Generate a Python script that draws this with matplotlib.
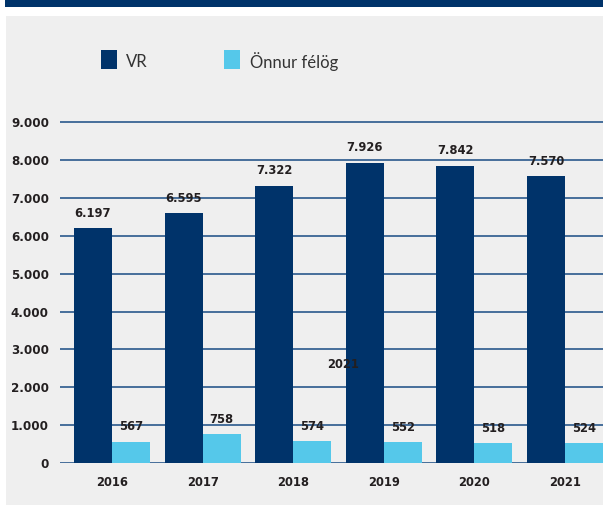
import numpy as np
import matplotlib
matplotlib.use("Agg")
import matplotlib.pyplot as plt
from matplotlib.patches import Rectangle

# --- data ---
years = ["2016", "2017", "2018", "2019", "2020", "2021"]
vr = [6197, 6595, 7322, 7926, 7842, 7570]
others = [567, 758, 574, 552, 518, 524]
yticks = [0, 1000, 2000, 3000, 4000, 5000, 6000, 7000, 8000, 9000]
series_names = ["VR", "Önnur félög"]

navy = "#00336a"
light = "#55c8ea"
grid_col = "#466e9a"
txt = "#231f20"
num_font = "DejaVu Sans"

plt.rcParams["font.family"] = ["Lato", "DejaVu Sans"]

W, H = 603, 507
fig = plt.figure(figsize=(W / 100, H / 100), dpi=100)
fig.patch.set_facecolor("white")

# background: top band + grey panel
fig.patches.append(Rectangle((5 / W, 1 - 7 / H), 1, 7 / H, transform=fig.transFigure,
                             facecolor=navy, edgecolor="none", zorder=-2))
fig.patches.append(Rectangle((6 / W, 1 - 505 / H), 1, (505 - 16) / H, transform=fig.transFigure,
                             facecolor="#efefef", edgecolor="none", zorder=-2))

# axes placement (pixels)
px_per_k = 37.86
y0 = 463
ymax = 9200
ax_top = y0 - ymax / 1000 * px_per_k
ax_left, ax_right = 60, 603
ax = fig.add_axes([ax_left / W, (H - y0) / H, (ax_right - ax_left) / W, (y0 - ax_top) / H])
ax.set_facecolor("none")
ax.set_zorder(2)

x = np.arange(len(years))
bw = 0.42
ax.bar(x - bw / 2, vr, bw, color=navy, zorder=3, label=series_names[0])
ax.bar(x + bw / 2, others, bw, color=light, zorder=3, label=series_names[1])

for t in yticks:
    ax.axhline(t, color=grid_col, lw=1.4, zorder=2)

def fmt(v):
    return f"{v:,}".replace(",", ".")

for i in range(len(years)):
    ax.text(x[i] - bw / 2, vr[i] + 230, fmt(vr[i]), ha="center", va="bottom",
            fontsize=8.3, fontweight="bold", color=txt, family=num_font)
    ax.text(x[i] + bw / 2, others[i] + 220, fmt(others[i]), ha="center", va="bottom",
            fontsize=8.3, fontweight="bold", color=txt, family=num_font)

# stray label present in the original
ax.text(2.55, 2590, "2021", ha="center", va="center", fontsize=8.3,
        fontweight="bold", color=txt, family=num_font)

ax.set_xlim(-0.574, (ax_right - 112) / 90.6)
ax.set_ylim(0, ymax)
ax.set_xticks(x)
ax.set_xticklabels(years, fontsize=8.3, fontweight="bold", color=txt, family=num_font)
ax.set_yticks(yticks)
ax.set_yticklabels([fmt(t) for t in yticks], fontsize=8.6, fontweight="bold", color=txt,
                   family=num_font)
ax.tick_params(length=0, pad=8)
ax.tick_params(axis="x", pad=9)
for s in ax.spines.values():
    s.set_visible(False)

# legend
fig.patches.append(Rectangle((101 / W, 1 - 69 / H), 16 / W, 19 / H, transform=fig.transFigure,
                             facecolor=navy, edgecolor="none", zorder=3))
fig.text(126 / W, 1 - 62 / H, series_names[0], fontsize=12, color="#333333", va="center")
fig.patches.append(Rectangle((224 / W, 1 - 69 / H), 16 / W, 19 / H, transform=fig.transFigure,
                             facecolor=light, edgecolor="none", zorder=3))
fig.text(250 / W, 1 - 62 / H, series_names[1], fontsize=12, color="#333333", va="center")

fig.savefig("out.png", dpi=100)
